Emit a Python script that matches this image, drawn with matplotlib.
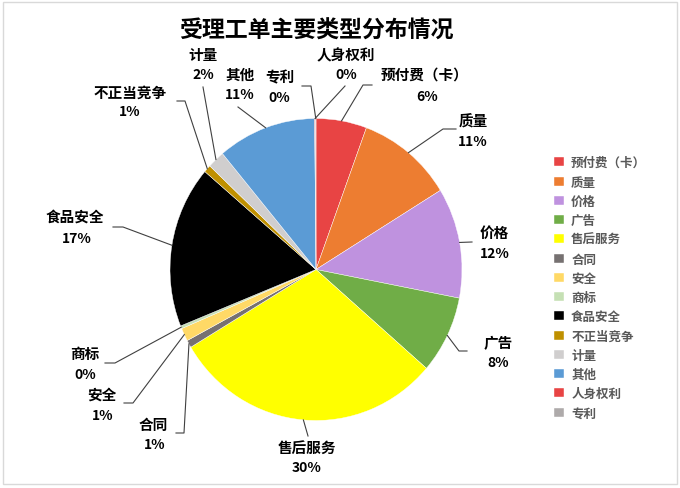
import numpy as np
import matplotlib
matplotlib.use("Agg")
import matplotlib.pyplot as plt
from matplotlib.patches import Rectangle

plt.rcParams['font.family'] = ['Noto Sans CJK SC', 'DejaVu Sans']

# 数据
categories = ['预付费（卡）', '质量', '价格', '广告', '售后服务', '合同', '安全',
              '商标', '食品安全', '不正当竞争', '计量', '其他', '人身权利', '专利']
values = [5.6, 10.6, 11.8, 8.3, 30.0, 0.8, 1.4, 0.3, 17.3, 0.8, 1.9, 10.9, 0.1, 0.05]
colors = ['#E84444', '#ED7D31', '#BF92DF', '#70AD47', '#FFFF00', '#767171', '#FFD966',
          '#C5E0B4', '#000000', '#BF9000', '#D0CECE', '#5B9BD5', '#E84444', '#AEAAAA']

# 布局: 饼图中心 / 半径 (像素)
W, H = 680, 489
CX, CY, RX, RY = 316, 270.5, 146, 151


def px(x, y):
    return (x - CX) / RX, (CY - y) / RY


# 标签位置: (名称中心, 百分比中心, 折点, 终点)
label_pos = {
    '预付费（卡）': ((425, 75), (427, 97), (363, 86), (372, 86)),
    '质量': ((473, 122), (473, 142), (443, 130), (456, 130)),
    '价格': ((494, 233), (495, 254), None, (472, 243)),
    '广告': ((498, 343), (498, 363), (459, 352), (467, 352)),
    '售后服务': ((307, 448), (307, 468), None, (308, 437)),
    '合同': ((153, 425), (155, 445), (184, 434), (176, 434)),
    '安全': ((102, 395), (103, 416), (133, 404), (124, 404)),
    '商标': ((85, 354), (85, 375), (115, 364), (105, 364)),
    '食品安全': ((75, 217), (77, 239), (123, 228), (113, 228)),
    '不正当竞争': ((130, 93), (130, 112), (185, 102), (177, 102)),
    '计量': ((203, 55), (203, 75), None, (203, 88)),
    '其他': ((240, 75), (240, 95), None, (238, 108)),
    '人身权利': ((346, 55), (346, 75), None, (345, 87)),
    '专利': ((280, 77), (279, 98), (311, 87), (302, 87)),
}

fig = plt.figure(figsize=(W / 100, H / 100), dpi=100)
ax = fig.add_axes([0, 0, 1, 1])

wedges, _ = ax.pie(values, colors=colors, startangle=90, counterclock=False,
                   radius=1, center=(0, 0),
                   wedgeprops=dict(edgecolor='white', linewidth=0.3))
ax.set_aspect('auto')
ax.set_xlim(-CX / RX, (W - CX) / RX)
ax.set_ylim((CY - H) / RY, CY / RY)
ax.axis('off')

total = sum(values)
for w, name, v in zip(wedges, categories, values):
    (nx, ny), (qx, qy), knee, end = label_pos[name]
    pct = '%d%%' % round(v / total * 100)
    ax.text(*px(nx, ny), name, ha='center', va='center', fontsize=10.5,
            fontweight='bold', color='black')
    ax.text(*px(qx, qy), pct, ha='center', va='center', fontsize=10,
            fontweight='bold', color='black')
    mid = np.deg2rad((w.theta1 + w.theta2) / 2)
    pts = [(np.cos(mid), np.sin(mid))]
    if knee is not None:
        pts.append(px(*knee))
    pts.append(px(*end))
    pts = np.array(pts)
    ax.plot(pts[:, 0], pts[:, 1], color='#404040', lw=0.8)

# 标题
fig.text(316 / W, 1 - 31 / H, '受理工单主要类型分布情况', ha='center', va='center',
         fontsize=16.5, fontweight='bold')

# 图例
leg = fig.legend(wedges, categories, loc='upper left',
                 bbox_to_anchor=(543 / W, 1 - 146 / H), frameon=False,
                 handlelength=0.75, handleheight=0.75,
                 handletextpad=0.6, labelspacing=0.5, labelcolor='#595959',
                 prop={'weight': 'bold', 'size': 9})

# 边框
fig.patches.append(Rectangle((3 / W, 4 / H), 674 / W, 482 / H, transform=fig.transFigure,
                             fill=False, edgecolor='#D9D9D9', lw=1))

fig.savefig('out.png', dpi=100)
